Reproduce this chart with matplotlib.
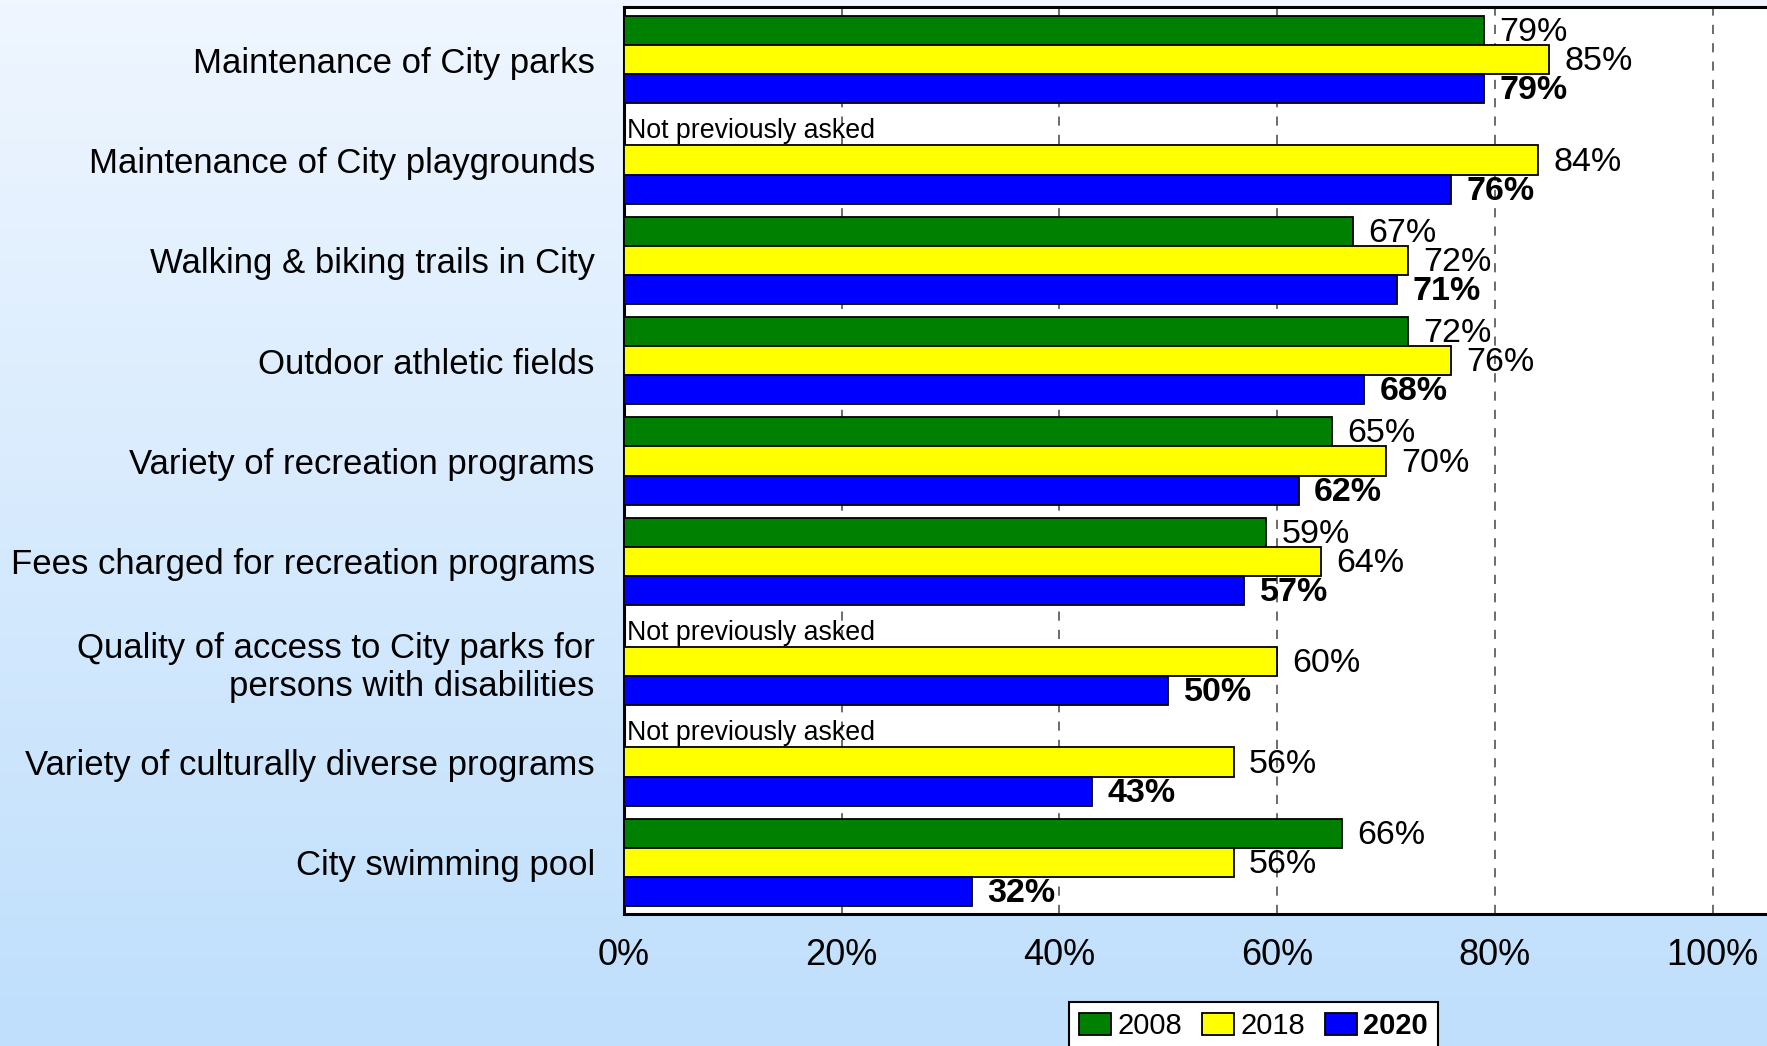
import numpy as np
import matplotlib
matplotlib.use("Agg")
import matplotlib.pyplot as plt
from matplotlib.colors import LinearSegmentedColormap
from matplotlib.patches import Patch

plt.rcParams['font.family'] = ['Liberation Sans', 'DejaVu Sans']

categories = [
    "Maintenance of City parks",
    "Maintenance of City playgrounds",
    "Walking & biking trails in City",
    "Outdoor athletic fields",
    "Variety of recreation programs",
    "Fees charged for recreation programs",
    "Quality of access to City parks for\npersons with disabilities",
    "Variety of culturally diverse programs",
    "City swimming pool",
]
# None = question not asked that year
vals_2008 = [79, None, 67, 72, 65, 59, None, None, 66]
vals_2018 = [85, 84, 72, 76, 70, 64, 60, 56, 56]
vals_2020 = [79, 76, 71, 68, 62, 57, 50, 43, 32]
years = ["2008", "2018", "2020"]
colors = ["#008000", "#FFFF00", "#0000FF"]
xticks = [0, 20, 40, 60, 80, 100]

fig = plt.figure(figsize=(17.67, 10.46), dpi=100)

# background gradient
bg = fig.add_axes([0, 0, 1, 1], zorder=-10)
cmap = LinearSegmentedColormap.from_list("bg", ["#EFF6FF", "#BFDFFC"])
bg.imshow(np.linspace(0, 1, 256).reshape(-1, 1), aspect="auto", cmap=cmap,
          extent=[0, 1, 0, 1])
bg.axis("off")

ax = fig.add_axes([624 / 1767, 1 - 914 / 1046, 1 - 624 / 1767, (914 - 7) / 1046])
ax.set_facecolor("white")

h = 0.29
y = np.arange(len(categories))
series = [vals_2008, vals_2018, vals_2020]
for k, (vals, col) in enumerate(zip(series, colors)):
    ys = y + (k - 1) * h
    for yi, v in zip(ys, vals):
        if v is None:
            if k == 0:
                ax.text(0.3, yi, "Not previously asked", ha="left", va="center",
                        fontsize=19.3, zorder=4)
            continue
        ax.barh(yi, v, height=h, color=col, edgecolor="black", linewidth=1.3, zorder=3)
        ax.annotate(f"{v}%", (v, yi), xytext=(11, -1.5), textcoords="offset points",
                    ha="left", va="center", fontsize=24.5,
                    fontweight="bold" if k == 2 else "normal", zorder=4)

ax.set_xlim(0, 105)
ax.set_ylim(8.515, -0.525)
ax.set_xticks(xticks)
ax.set_xticklabels([f"{t}%" for t in xticks], fontsize=26)
ax.set_yticks(y)
ax.set_yticklabels(categories, fontsize=25, linespacing=1.2)
ax.tick_params(axis="x", length=0, pad=17)
ax.tick_params(axis="y", length=0, pad=21)

for xt in xticks[1:]:
    ax.axvline(xt, color="#444444", linestyle=(0, (6, 6)), linewidth=1.1, zorder=1)

for s in ["top", "left", "bottom"]:
    ax.spines[s].set_linewidth(2.2)
    ax.spines[s].set_color("black")
ax.spines["right"].set_visible(False)

handles = [Patch(facecolor=c, edgecolor="black", linewidth=1.3, label=yr)
           for c, yr in zip(colors, years)]
leg = fig.legend(handles=handles, loc="upper left",
                 bbox_to_anchor=(1069 / 1767, 1 - 1002 / 1046),
                 ncol=3, fontsize=21, frameon=True, fancybox=False,
                 edgecolor="black", facecolor="white", framealpha=1,
                 handlelength=1.1, handleheight=0.75, handletextpad=0.2,
                 columnspacing=0.7, borderpad=0.35, borderaxespad=0)
leg.get_frame().set_linewidth(1.5)
leg.get_texts()[2].set_fontweight("bold")

fig.savefig("out.png", dpi=100)
